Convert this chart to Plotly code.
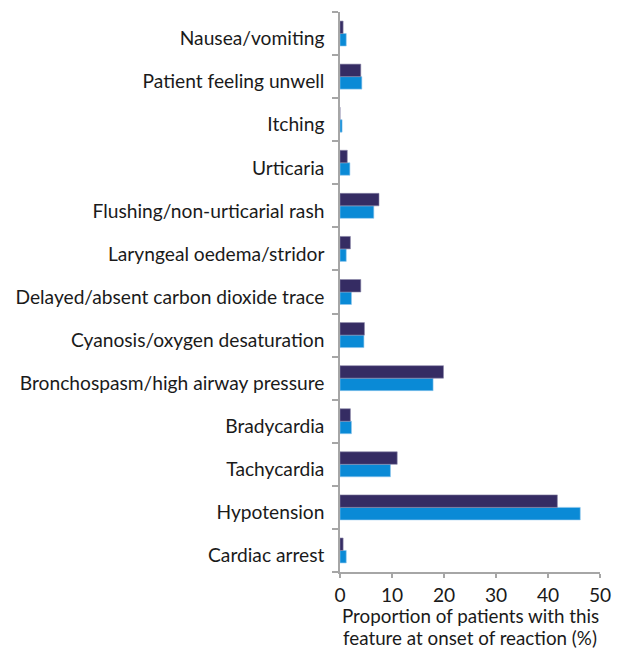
import plotly.graph_objects as go

categories = [
    "Cardiac arrest",
    "Hypotension",
    "Tachycardia",
    "Bradycardia",
    "Bronchospasm/high airway pressure",
    "Cyanosis/oxygen desaturation",
    "Delayed/absent carbon dioxide trace",
    "Laryngeal oedema/stridor",
    "Flushing/non-urticarial rash",
    "Urticaria",
    "Itching",
    "Patient feeling unwell",
    "Nausea/vomiting",
]
series_dark = [0.6, 41.8, 11.0, 2.0, 19.9, 4.7, 4.0, 2.0, 7.5, 1.4, 0.0, 4.0, 0.6]
series_blue = [1.2, 46.2, 9.7, 2.2, 17.9, 4.6, 2.2, 1.2, 6.5, 1.9, 0.4, 4.2, 1.2]
x_ticks = [0, 10, 20, 30, 40, 50]
x_title_lines = ["Proportion of patients with this", "feature at onset of reaction (%)"]

FONT = "Lato"
FS = 19.2
FS_TITLE = 18.8

fig = go.Figure()
fig.add_trace(go.Bar(
    y=categories, x=series_blue, orientation="h", name="Series 2",
    marker=dict(color="#0a8ad6", line=dict(color="#8fc6ec", width=0.6)),
))
fig.add_trace(go.Bar(
    y=categories, x=series_dark, orientation="h", name="Series 1",
    marker=dict(color="#352c63", line=dict(color="#8a86a8", width=0.6)),
))

# plot area: top 12 px, bottom 572 px (height 560)
T, B = 12, 572
def paper_y(px):
    return (B - px) / (B - T)

for line, py in zip(x_title_lines, [615.5, 637.5]):
    fig.add_annotation(
        text=line, xref="paper", yref="paper", x=0.5, y=paper_y(py),
        xanchor="center", yanchor="middle", showarrow=False,
        font=dict(family=FONT, size=FS_TITLE, color="#1a1a1a"),
    )

fig.update_layout(
    width=619, height=650,
    margin=dict(l=340, r=19, t=T, b=650 - B),
    barmode="group", bargap=0.42, bargroupgap=0.0,
    showlegend=False,
    plot_bgcolor="white", paper_bgcolor="white",
    font=dict(family=FONT, size=FS, color="#1a1a1a"),
)
fig.update_xaxes(
    range=[0, 50], tickvals=x_ticks, ticktext=[str(v) for v in x_ticks],
    showgrid=False, zeroline=False, automargin=False,
    showline=True, linecolor="#a6a6a6", linewidth=1.5,
    ticks="outside", ticklen=4, tickcolor="#a6a6a6", tickwidth=1.5,
    ticklabelstandoff=1,
    tickfont=dict(size=FS),
)
fig.update_yaxes(
    categoryorder="array", categoryarray=categories,
    range=[-0.5, 12.5],
    showgrid=False, zeroline=False, automargin=False,
    showline=True, linecolor="#a6a6a6", linewidth=1.5,
    ticks="outside", ticklen=6, tickcolor="#a6a6a6", tickwidth=1.5,
    tickson="boundaries", ticklabelstandoff=10, ticklabelshift=5,
    tickfont=dict(size=FS),
)

fig.write_html("out.html", config={"displayModeBar": False},
               post_script="document.body.style.margin='0';")
